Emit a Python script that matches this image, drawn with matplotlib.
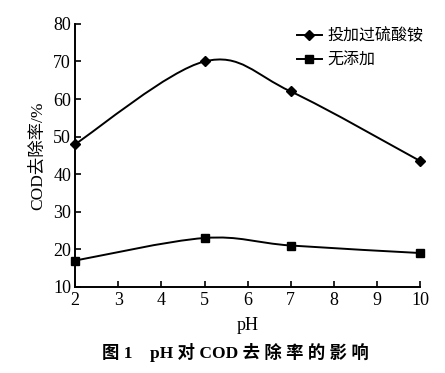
import numpy as np
import matplotlib.pyplot as plt
from matplotlib.path import Path
from matplotlib.patches import PathPatch
from matplotlib.lines import Line2D

plt.rcParams['font.family'] = ['Liberation Serif', 'Noto Sans CJK SC']

ph = [2, 5, 7, 10]
with_persulfate = [48, 70, 62, 43.5]
no_additive = [17, 23, 21, 19]
labels = ['投加过硫酸铵', '无添加']
xticks = [2, 3, 4, 5, 6, 7, 8, 9, 10]
yticks = [10, 20, 30, 40, 50, 60, 70, 80]


def smooth_path(x, y, t=0.5):
    """Catmull-Rom style bezier path through the data points"""
    x = np.asarray(x, float)
    y = np.asarray(y, float)
    verts = [(x[0], y[0])]
    codes = [Path.MOVETO]
    n = len(x)
    for i in range(n - 1):
        p0 = (x[max(i - 1, 0)], y[max(i - 1, 0)])
        p1 = (x[i], y[i])
        p2 = (x[i + 1], y[i + 1])
        p3 = (x[min(i + 2, n - 1)], y[min(i + 2, n - 1)])
        c1 = (p1[0] + (p2[0] - p0[0]) * t / 3, p1[1] + (p2[1] - p0[1]) * t / 3)
        c2 = (p2[0] - (p3[0] - p1[0]) * t / 3, p2[1] - (p3[1] - p1[1]) * t / 3)
        verts += [c1, c2, p2]
        codes += [Path.CURVE4] * 3
    return Path(verts, codes)


fig = plt.figure(figsize=(4.45, 3.73), dpi=100)
ax = fig.add_axes([0.169, 0.231, 0.775, 0.705])

for ys, m, ms in [(with_persulfate, 'D', 5), (no_additive, 's', 6)]:
    ax.add_patch(PathPatch(smooth_path(ph, ys), fill=False, lw=1.4, color='black'))
    ax.plot(ph, ys, linestyle='none', marker=m, ms=ms, color='black', clip_on=False)

ax.set_xlim(2, 10)
ax.set_ylim(10, 80)
ax.set_xticks(xticks)
ax.set_yticks(yticks)
ax.spines['top'].set_visible(False)
ax.spines['right'].set_visible(False)
ax.spines['left'].set_linewidth(1.4)
ax.spines['bottom'].set_linewidth(1.4)
ax.tick_params(direction='in', length=4, width=1.2, labelsize=13)
ax.tick_params(axis='y', pad=3)
ax.set_xlabel('pH', fontsize=13, labelpad=6)
ax.set_ylabel('COD去除率/%', fontsize=12.5, labelpad=5)

handles = [Line2D([], [], color='black', lw=1.4, marker='D', ms=5),
           Line2D([], [], color='black', lw=1.4, marker='s', ms=6)]
ax.legend(handles, labels, loc='upper right', bbox_to_anchor=(1.05, 1.04),
          frameon=False, handlelength=1.6, handletextpad=0.3,
          labelspacing=0.45, prop={'family': 'Noto Sans CJK SC', 'size': 11.5})

fig.text(0.53, 0.03, '图 1    pH 对 COD 去 除 率 的 影 响', ha='center', va='bottom',
         fontsize=12.5, fontweight='bold')

fig.savefig('out.png', dpi=100)
